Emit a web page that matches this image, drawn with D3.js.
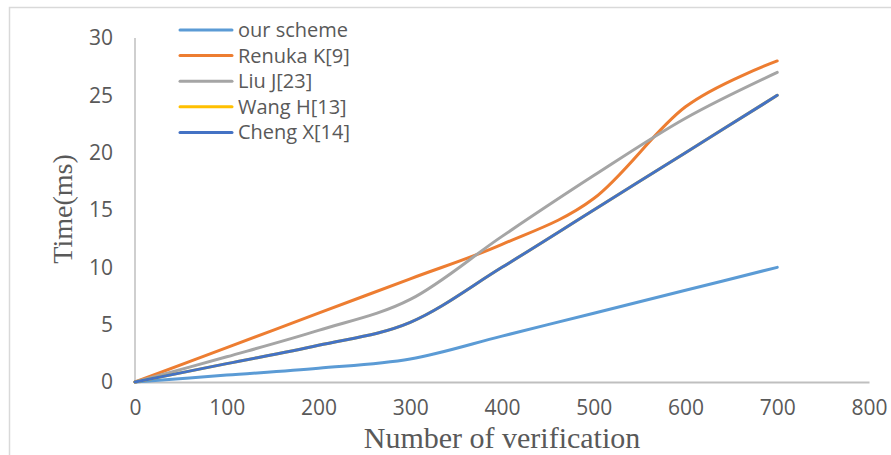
<!DOCTYPE html>
<html><head><meta charset="utf-8">
<script src="https://cdn.jsdelivr.net/npm/d3@7/dist/d3.min.js"></script>
<style>body{margin:0;background:#fff}svg{display:block}</style>
</head><body><svg id="c" width="891" height="455"></svg>
<script>
const xValues = [0, 100, 200, 300, 400, 500, 600, 700];
const ourScheme = [0, 0.6, 1.2, 2, 4, 6, 8, 10];
const renukaK9 = [0, 3, 6, 9, 12, 16, 24, 28];
const liuJ23 = [0, 2.2, 4.5, 7.2, 12.7, 18, 23, 27];
const wangH13 = [0, 1.6, 3.2, 5.2, 10, 15, 20, 25];
const chengX14 = [0, 1.6, 3.2, 5.2, 10, 15, 20, 25];
const seriesNames = ["our scheme", "Renuka K[9]", "Liu J[23]", "Wang H[13]", "Cheng X[14]"];
const seriesColors = ["#5B9BD5", "#ED7D31", "#A5A5A5", "#FFC000", "#4472C4"];
const xTicks = [0, 100, 200, 300, 400, 500, 600, 700, 800];
const yTicks = [0, 5, 10, 15, 20, 25, 30];

const series = [ourScheme, renukaK9, liuJ23, wangH13, chengX14].map((v, i) => ({
  name: seriesNames[i], color: seriesColors[i],
  pts: v.map((y, j) => [xValues[j], y])
}));

const svg = d3.select("#c");
const x = d3.scaleLinear().domain([0, 800]).range([135, 869]);
const y = d3.scaleLinear().domain([0, 30]).range([382, 38]);
const txt = "#595959";
const tickFont = "'Open Sans', sans-serif";

// chart frame
svg.append("path").attr("d", "M9.5,455 L9.5,7.5 L891,7.5")
  .attr("fill", "none").attr("stroke", "#d9d9d9").attr("stroke-width", 1.5);

// y axis line
svg.append("line").attr("x1", 135).attr("x2", 135).attr("y1", y(30)).attr("y2", y(0))
  .attr("stroke", "#bfbfbf").attr("stroke-width", 1.5);

// x axis
const xAxis = svg.append("g").attr("transform", `translate(0,${y(0)})`)
  .call(d3.axisBottom(x).tickValues(xTicks).tickSize(0).tickPadding(18).tickFormat(d3.format("d")));
xAxis.select(".domain").attr("stroke", "#bfbfbf").attr("stroke-width", 2);
xAxis.selectAll("text").attr("fill", txt).style("font-family", tickFont).style("font-size", "21px");

// y axis labels
const yAxis = svg.append("g").attr("transform", `translate(135,0)`)
  .call(d3.axisLeft(y).tickValues(yTicks).tickSize(0).tickPadding(22));
yAxis.select(".domain").remove();
yAxis.selectAll("text").attr("fill", txt).style("font-family", tickFont).style("font-size", "21px");

// lines
const line = d3.line().x(d => x(d[0])).y(d => y(d[1])).curve(d3.curveCatmullRom.alpha(0));
svg.append("g").selectAll("path").data(series).join("path")
  .attr("d", d => line(d.pts)).attr("fill", "none")
  .attr("stroke", d => d.color).attr("stroke-width", 3).attr("stroke-linecap", "round");

// legend
const lg = svg.append("g").selectAll("g").data(series).join("g")
  .attr("transform", (d, i) => `translate(0,${30 + i * 25.6})`);
lg.append("line").attr("x1", 180).attr("x2", 232).attr("stroke", d => d.color)
  .attr("stroke-width", 3).attr("stroke-linecap", "round");
lg.append("text").attr("x", 238).attr("dy", "0.35em").text(d => d.name)
  .attr("fill", txt).style("font-family", tickFont).style("font-size", "20px");

// axis titles
svg.append("text").attr("x", 502).attr("y", 448).attr("text-anchor", "middle")
  .attr("fill", txt).style("font-family", "'Liberation Serif', serif").style("font-size", "30px")
  .text("Number of verification");
svg.append("text").attr("transform", "translate(72,209) rotate(-90)").attr("text-anchor", "middle")
  .attr("fill", txt).style("font-family", "'Liberation Serif', serif").style("font-size", "28px")
  .text("Time(ms)");
</script></body></html>
